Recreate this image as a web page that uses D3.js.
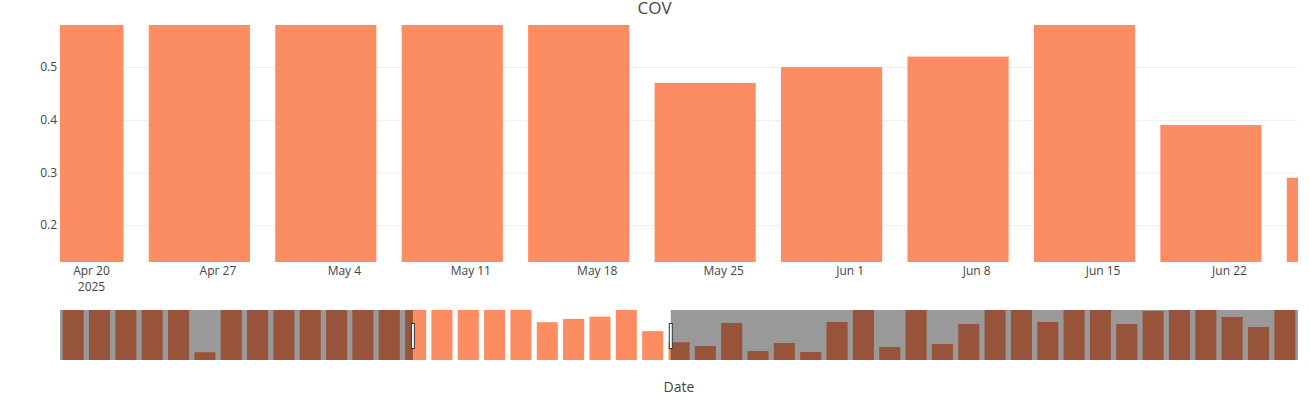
<!DOCTYPE html>
<html>
<head>
<meta charset="utf-8">
<script src="https://cdn.jsdelivr.net/npm/d3@7"></script>
<style>
  body { margin: 0; background: #fff; }
  svg { display: block; font-family: "Open Sans", verdana, arial, sans-serif; }
  .axis text { fill: #444; font-size: 12px; font-family: "Open Sans", verdana, arial, sans-serif; }
  .grid line { stroke: #eee; }
</style>
</head>
<body>
<svg id="chart"></svg>
<script>
// weekly dates (bar centres)
const weeks = [
  "2025-01-18", "2025-01-25", "2025-02-01", "2025-02-08", "2025-02-15", "2025-02-22",
  "2025-03-01", "2025-03-08", "2025-03-15", "2025-03-22", "2025-03-29", "2025-04-05",
  "2025-04-12", "2025-04-19", "2025-04-26", "2025-05-03", "2025-05-10", "2025-05-17",
  "2025-05-24", "2025-05-31", "2025-06-07", "2025-06-14", "2025-06-21", "2025-06-28",
  "2025-07-05", "2025-07-12", "2025-07-19", "2025-07-26", "2025-08-02", "2025-08-09",
  "2025-08-16", "2025-08-23", "2025-08-30", "2025-09-06", "2025-09-13", "2025-09-20",
  "2025-09-27", "2025-10-04", "2025-10-11", "2025-10-18", "2025-10-25", "2025-11-01",
  "2025-11-08", "2025-11-15", "2025-11-22", "2025-11-29", "2025-12-06"
];

// COV per week (values above 0.58 run off the top of the visible range)
const cov = [
  0.68, 0.74, 0.63, 0.71, 0.66, 0.20,
  0.69, 0.77, 0.64, 0.72, 0.61, 0.70,
  0.65, 0.73, 0.62, 0.67, 0.75, 0.64,
  0.47, 0.50, 0.52, 0.69, 0.39, 0.29,
  0.256, 0.463, 0.211, 0.283, 0.202, 0.472,
  0.66, 0.247, 0.71, 0.274, 0.454, 0.63,
  0.68, 0.472, 0.74, 0.61, 0.454, 0.571,
  0.65, 0.70, 0.517, 0.427, 0.62
];

const yTicks = [0.2, 0.3, 0.4, 0.5];
const yRange = [0.13, 0.58];
const viewRange = ["2025-04-18T06:50", "2025-06-25T19:40"];

class CovBars {

  constructor(_config, _data) {
    this.config = {
      parentElement: _config.parentElement,
      containerWidth: _config.containerWidth || 1309,
      containerHeight: _config.containerHeight || 400,
      margin: _config.margin || {top: 25, right: 11, bottom: 138, left: 60},
      slider: _config.slider || {top: 310, height: 50}
    }
    this.data = _data;
    this.initVis();
  }

  initVis() {
    let vis = this;
    const parseDay = d3.timeParse("%Y-%m-%d");
    const parseView = d3.timeParse("%Y-%m-%dT%H:%M");

    vis.width = vis.config.containerWidth - vis.config.margin.left - vis.config.margin.right;
    vis.height = vis.config.containerHeight - vis.config.margin.top - vis.config.margin.bottom;

    vis.data.forEach(d => d.date = parseDay(d.week));
    vis.halfBar = 0.8 * 7 * 864e5 / 2;
    vis.halfSlot = 7 * 864e5 / 2;

    vis.xScale = d3.scaleTime()
        .domain(viewRange.map(parseView))
        .range([0, vis.width]);

    vis.yScale = d3.scaleLinear()
        .domain(yRange)
        .range([vis.height, 0]);

    const ext = d3.extent(vis.data, d => d.date);
    vis.xSlider = d3.scaleTime()
        .domain([new Date(+ext[0] - vis.halfSlot), new Date(+ext[1] + vis.halfSlot)])
        .range([0, vis.width]);

    vis.ySlider = d3.scaleLinear()
        .domain(yRange)
        .range([vis.config.slider.height, 0]);

    vis.svg = d3.select(vis.config.parentElement)
        .attr('width', vis.config.containerWidth)
        .attr('height', vis.config.containerHeight);

    const defs = vis.svg.append('defs');
    defs.append('clipPath').attr('id', 'clip-main')
      .append('rect').attr('width', vis.width).attr('height', vis.height);
    defs.append('clipPath').attr('id', 'clip-slider')
      .append('rect').attr('width', vis.width).attr('height', vis.config.slider.height);

    vis.chart = vis.svg.append('g')
        .attr('transform', `translate(${vis.config.margin.left},${vis.config.margin.top})`);

    vis.gridG = vis.chart.append('g').attr('class', 'grid');
    vis.barsG = vis.chart.append('g').attr('clip-path', 'url(#clip-main)');

    vis.xAxisG = vis.chart.append('g')
        .attr('class', 'axis x-axis')
        .attr('transform', `translate(0,${vis.height})`);
    vis.yAxisG = vis.chart.append('g')
        .attr('class', 'axis y-axis');

    vis.slider = vis.svg.append('g')
        .attr('transform', `translate(${vis.config.margin.left},${vis.config.slider.top})`);

    // title + axis title
    vis.svg.append('text')
        .attr('x', vis.config.containerWidth / 2)
        .attr('y', 14)
        .attr('text-anchor', 'middle')
        .style('font-size', '17px')
        .style('fill', '#444')
        .text('COV');

    vis.svg.append('text')
        .attr('x', vis.config.margin.left + vis.width / 2)
        .attr('y', 391.5)
        .attr('text-anchor', 'middle')
        .style('font-size', '14px')
        .style('fill', '#444')
        .text('Date');

    vis.renderVis();
  }

  renderVis() {
    let vis = this;

    // gridlines
    vis.gridG.call(d3.axisLeft(vis.yScale).tickValues(yTicks).tickSize(-vis.width).tickFormat(''))
      .call(g => g.select('.domain').remove());

    // main bars
    vis.barsG.selectAll('.bar')
        .data(vis.data)
        .join('rect')
        .attr('class', 'bar')
        .attr('x', d => vis.xScale(new Date(+d.date - vis.halfBar)))
        .attr('width', d => vis.xScale(new Date(+d.date + vis.halfBar)) - vis.xScale(new Date(+d.date - vis.halfBar)))
        .attr('y', d => vis.yScale(d.value))
        .attr('height', d => vis.height - vis.yScale(d.value))
        .attr('fill', '#fc8d62');

    // axes
    const fmt = d3.timeFormat('%b %-d');
    vis.xAxisG.call(d3.axisBottom(vis.xScale).ticks(d3.timeWeek.every(1)).tickSize(0).tickPadding(4.5).tickFormat(fmt))
      .call(g => g.select('.domain').remove());
    vis.xAxisG.selectAll('.tick text')
      .filter((d, i) => i === 0)
      .append('tspan')
        .attr('x', 0)
        .attr('dy', '1.33em')
        .text(d => d3.timeFormat('%Y')(d));

    vis.yAxisG.call(d3.axisLeft(vis.yScale).tickValues(yTicks).tickSize(0).tickPadding(3).tickFormat(d3.format('.1f')))
      .call(g => g.select('.domain').remove());

    // range slider
    const sh = vis.config.slider.height;
    const sl = vis.slider.append('g').attr('clip-path', 'url(#clip-slider)');
    sl.append('rect').attr('width', vis.width).attr('height', sh).attr('fill', '#fff');
    sl.selectAll('.sbar')
        .data(vis.data)
        .join('rect')
        .attr('class', 'sbar')
        .attr('x', d => vis.xSlider(new Date(+d.date - vis.halfBar)))
        .attr('width', d => vis.xSlider(new Date(+d.date + vis.halfBar)) - vis.xSlider(new Date(+d.date - vis.halfBar)))
        .attr('y', d => vis.ySlider(d.value))
        .attr('height', d => sh - vis.ySlider(d.value))
        .attr('fill', '#fc8d62');

    const [v0, v1] = vis.xScale.domain().map(vis.xSlider);
    sl.append('rect').attr('x', 0).attr('width', v0).attr('height', sh)
        .attr('fill', '#000').attr('fill-opacity', 0.4);
    sl.append('rect').attr('x', v1).attr('width', vis.width - v1).attr('height', sh)
        .attr('fill', '#000').attr('fill-opacity', 0.4);

    vis.slider.selectAll('.handle')
        .data([v0, v1])
        .join('rect')
        .attr('class', 'handle')
        .attr('x', d => d - 1.5)
        .attr('y', 13.5)
        .attr('width', 3)
        .attr('height', 25)
        .attr('fill', '#fff')
        .attr('stroke', '#333')
        .attr('stroke-width', 1);
  }
}

const rows = weeks.map((w, i) => ({week: w, value: cov[i]}));
new CovBars({parentElement: '#chart'}, rows);
</script>
</body>
</html>
